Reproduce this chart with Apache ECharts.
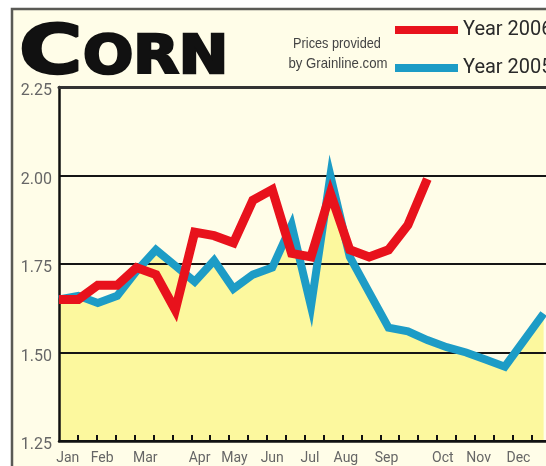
<!DOCTYPE html>
<html>
<head>
<meta charset="utf-8">
<script src="https://cdn.jsdelivr.net/npm/echarts@6/dist/echarts.min.js"></script>
<style>
  html, body { margin: 0; padding: 0; background: #ffffff; }
  #chart { width: 546px; height: 466px; }
</style>
</head>
<body>
<div id="chart"></div>
<script>
// ---- data ----
const months = ['Jan','Feb','Mar','Apr','May','Jun','Jul','Aug','Sep','Oct','Nov','Dec'];
// week-of-year positions of the month labels
const monthWeeks = [0.9, 4.45, 8.9, 14.5, 18.1, 22.0, 25.9, 29.6, 33.8, 39.6, 43.3, 47.4];
// week-of-year positions of the small tick marks on the time axis
const tickWeeks = [1.95, 3.9, 5.85, 7.8, 9.75, 11.7, 13.65, 15.6, 17.55, 19.5, 21.45, 23.4, 25.35,
                   27.3, 29.25, 31.2, 33.15, 35.1, 37.05, 39.0, 40.95, 42.9, 44.85, 46.8, 48.75, 50.7];
// biweekly sample weeks
const weeks2006 = [0,2,4,6,8,10,12,14,16,18,20,22,24,26,28,30,32,34,36,38];
const year2006 = [1.65,1.65,1.69,1.69,1.74,1.72,1.62,1.84,1.83,1.81,1.93,1.96,1.78,1.77,1.95,1.79,1.77,1.79,1.86,1.99];
const weeks2005 = [0,2,4,6,8,10,12,14,16,18,20,22,24,26,28,30,32,34,36,38,40,42,44,46,48,50];
const year2005 = [1.65,1.66,1.64,1.66,1.73,1.79,1.745,1.70,1.76,1.68,1.72,1.74,1.86,1.63,2.00,1.77,1.67,1.57,1.56,1.535,1.515,1.50,1.48,1.46,1.535,1.61];
const yTicks = [1.25, 2.25, 0.25]; // min, max, step

const RED = '#e8121c';
const BLUE = '#1d9cc6';
const SANS = "Roboto, 'Liberation Sans', sans-serif";

const chart = echarts.init(document.getElementById('chart'), null, { renderer: 'canvas' });

const pair = (xs, ys) => xs.map((x, i) => [x, ys[i]]);

chart.setOption({
  backgroundColor: '#ffffff',
  animation: false,
  graphic: [
    { type: 'rect', z: -10, shape: { x: 12, y: 9, width: 600, height: 500 },
      style: { fill: '#fffde8', stroke: '#5a5a55', lineWidth: 2.5 } },
    { type: 'text', x: 19, y: 21, scaleX: 1.27, scaleY: 1.0, z: 10,
      style: { text: 'C', font: 'bold 68px "DejaVu Sans"', fill: '#111', stroke: '#111', lineWidth: 2.5 } },
    { type: 'text', x: 83, y: 33, scaleX: 1.16, scaleY: 1.03, z: 10,
      style: { text: 'ORN', font: 'bold 51px "DejaVu Sans"', fill: '#111', stroke: '#111', lineWidth: 2.5 } },
    { type: 'text', x: 337, y: 44, scaleX: 0.85, z: 10,
      style: { text: 'Prices provided', font: "15px 'Liberation Sans'", fill: '#444', textAlign: 'center', textVerticalAlign: 'middle' } },
    { type: 'text', x: 338, y: 64, scaleX: 0.88, z: 10,
      style: { text: 'by Grainline.com', font: "15px 'Liberation Sans'", fill: '#444', textAlign: 'center', textVerticalAlign: 'middle' } }
  ],
  legend: [
    { data: ['Year 2006'], left: 395, top: 20, padding: 0, icon: 'rect', itemWidth: 63, itemHeight: 8,
      textStyle: { fontFamily: SANS, fontSize: 20, color: '#2a2a2a' } },
    { data: ['Year 2005'], left: 395, top: 58, padding: 0, icon: 'rect', itemWidth: 63, itemHeight: 8,
      textStyle: { fontFamily: SANS, fontSize: 20, color: '#2a2a2a' } }
  ],
  grid: { left: 59, top: 87, width: 504, height: 354, show: false, containLabel: false, outerBoundsMode: 'none' },
  xAxis: [
    { type: 'value', min: 0, max: 52, position: 'bottom', z: 2,
      axisLine: { show: true, lineStyle: { color: '#111', width: 2.5 } },
      axisTick: { show: true, inside: true, length: 6, customValues: tickWeeks, lineStyle: { color: '#111', width: 2 } },
      splitLine: { show: false },
      axisLabel: { customValues: monthWeeks, margin: 10,
        formatter: (v) => { let best = 0; monthWeeks.forEach((m, i) => { if (Math.abs(m - v) < Math.abs(monthWeeks[best] - v)) best = i; }); return months[best]; },
        fontFamily: SANS, fontSize: 14, color: '#666' } },
    { type: 'value', min: 0, max: 52, position: 'top', z: 2,
      axisLine: { show: true, lineStyle: { color: '#333', width: 3 } },
      axisTick: { show: false }, axisLabel: { show: false }, splitLine: { show: false } }
  ],
  yAxis: {
    type: 'value', min: yTicks[0], max: yTicks[1], interval: yTicks[2], z: 2,
    axisLine: { show: true, lineStyle: { color: '#111', width: 2.5 } },
    axisTick: { show: false },
    splitLine: { show: true, lineStyle: { color: '#151515', width: 2 } },
    axisLabel: { formatter: (v) => '{v|' + v.toFixed(2) + '}', margin: 7,
      rich: { v: { fontFamily: SANS, fontSize: 16, color: '#666', padding: [8, 0, 0, 0] } } }
  },
  series: [
    { name: 'fill2005', type: 'line', xAxisIndex: 0, data: pair(weeks2005, year2005),
      showSymbol: false, symbol: 'none', z: 1, silent: true,
      lineStyle: { width: 0, opacity: 0 },
      areaStyle: { color: '#fcf89e', opacity: 1, origin: 'start' } },
    { name: 'Year 2005', type: 'line', xAxisIndex: 0, data: pair(weeks2005, year2005),
      showSymbol: false, symbol: 'none', color: BLUE, z: 3,
      lineStyle: { color: BLUE, width: 8, join: 'miter', miterLimit: 6 } },
    { name: 'Year 2006', type: 'line', xAxisIndex: 0, data: pair(weeks2006, year2006),
      showSymbol: false, symbol: 'none', color: RED, z: 4,
      lineStyle: { color: RED, width: 9, join: 'miter', miterLimit: 6 } }
  ]
});
</script>
</body>
</html>
